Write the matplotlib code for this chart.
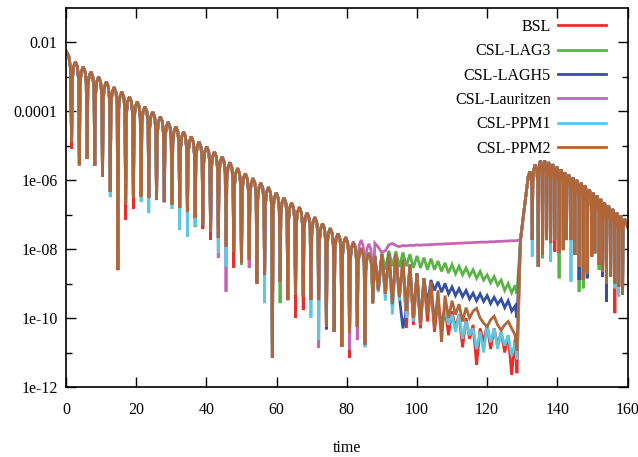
import matplotlib
matplotlib.use("Agg")
import matplotlib.pyplot as plt
import matplotlib.ticker as mticker
import numpy as np

names = ["BSL", "CSL-LAG3", "CSL-LAGH5", "CSL-Lauritzen", "CSL-PPM1", "CSL-PPM2"]
colors = ["#e8302a", "#58b544", "#3550a2", "#c466b4", "#5dc8e0", "#b1663a"]

# all values are log10 of the plotted quantity

# --- part A: t = 0 .. 87, regular oscillation (period ~2.2) ---
start_a = -2.26
dip_t_a = [1.6, 3.8, 6.0, 8.2, 10.4, 12.6, 14.8, 17.0, 19.2, 21.4,
           23.6, 25.8, 28.0, 30.2, 32.4, 34.6, 36.8, 39.0, 41.2, 43.4,
           45.6, 47.8, 50.0, 52.2, 54.4, 56.6, 58.8, 61.0, 63.2, 65.4,
           67.6, 69.8, 72.0, 74.2, 76.4, 78.6, 80.8, 83.0, 85.2, 87.4]
peak_a = [-2.57, -2.715, -2.86, -3.005, -3.15, -3.31, -3.44, -3.585, -3.73, -3.87,
          -4.02, -4.16, -4.32, -4.45, -4.60, -4.74, -4.89, -5.03, -5.18, -5.32,
          -5.49, -5.66, -5.81, -5.95, -6.08, -6.21, -6.37, -6.51, -6.66, -6.79,
          -6.95, -7.08, -7.26, -7.40, -7.55, -7.66, -7.82, -7.98, -8.12]
dip_a = [-4.89, -5.57, -5.39, -5.59, -5.91, -6.34, -8.61, -6.67, -6.52, -6.49,
         -6.52, -6.58, -6.64, -6.72, -6.81, -6.92, -7.10, -7.28, -7.50, -7.68,
         -7.93, -8.08, -8.41, -8.32, -9.00, -8.75, -11.15, -8.95, -9.48, -9.33,
         -9.38, -9.48, -9.48, -10.25, -10.40, -10.83, -10.43, -10.25, -10.78, -9.57]
dip_a_extra = {
    "BSL": {0: -5.1, 7: -7.16, 8: -6.84, 17: -7.42, 18: -7.74, 21: -8.54,
            29: -10.0, 30: -9.77, 36: -11.15},
    "CSL-LAG3": {16: -7.36, 22: -8.46, 27: -9.57},
    "CSL-LAGH5": {33: -10.33},
    "CSL-Lauritzen": {19: -8.26, 20: -9.24, 23: -8.55, 32: -10.87, 36: -10.93, 37: -10.64},
    "CSL-PPM1": {5: -6.49, 9: -6.64, 10: -6.96, 13: -6.84, 14: -7.45, 15: -7.64,
                 16: -7.33, 19: -8.12, 20: -8.51, 25: -9.57, 31: -10.0, 32: -10.64,
                 38: -10.85},
    "CSL-PPM2": {},
}
peak_a_extra = {"CSL-Lauritzen": {36: -7.78, 37: -7.74, 38: -7.85}}

# --- part B: t = 88 .. 128, irregular ---
t_b = list(range(88, 129))
vals_b = {
    "BSL": [-8.2, -9.2, -8.15, -9.3, -8.12, -9.6, -8.15, -9.4, -8.3, -10.29,
            -8.45, -10.2, -8.7, -10.3, -8.85, -10.1, -9.1, -10.4, -9.5, -10.2,
            -9.7, -10.5, -9.8, -10.3, -9.9, -10.85, -10.0, -10.6, -10.2, -11.36,
            -10.3, -10.7, -10.2, -10.9, -10.3, -10.8, -10.4, -11.0, -10.5, -11.65,
            -10.6],
    "CSL-LAG3": [-8.17, -9.19, -8.12, -8.6, -8.05, -8.5, -8.07, -8.52, -8.1, -8.5,
                 -8.15, -8.55, -8.2, -8.55, -8.25, -8.6, -8.28, -8.6, -8.35, -8.65,
                 -8.4, -8.7, -8.45, -8.72, -8.5, -8.75, -8.55, -8.78, -8.6, -8.85,
                 -8.65, -8.9, -8.75, -8.98, -8.8, -9.05, -8.9, -9.2, -9.0, -9.27,
                 -9.05],
    "CSL-LAGH5": [-8.2, -9.2, -8.15, -9.3, -8.12, -9.6, -8.15, -9.4, -10.3, -9.8,
                  -8.45, -10.0, -8.7, -10.1, -8.85, -9.6, -8.9, -9.2, -8.95, -9.25,
                  -9.0, -9.3, -9.1, -9.35, -9.15, -9.38, -9.2, -9.45, -9.28, -9.5,
                  -9.3, -9.52, -9.35, -9.58, -9.4, -9.6, -9.45, -9.7, -9.5, -9.8,
                  -9.65],
    "CSL-Lauritzen": [-7.83, -7.95, -8.1, -8.05, -7.88, -7.84, -7.9, -7.93, -7.9, -7.91,
                      -7.89, -7.9, -7.88, -7.89, -7.88, -7.88, -7.87, -7.87, -7.86, -7.86,
                      -7.85, -7.85, -7.84, -7.84, -7.83, -7.83, -7.82, -7.82, -7.81, -7.81,
                      -7.8, -7.8, -7.8, -7.79, -7.79, -7.78, -7.78, -7.77, -7.77, -7.76,
                      -7.76],
    "CSL-PPM1": [-8.2, -9.25, -8.15, -9.5, -8.12, -9.9, -8.15, -9.5, -8.3, -10.0,
                 -8.45, -10.1, -8.75, -10.2, -8.9, -9.86, -9.1, -10.0, -9.6, -10.35,
                 -9.7, -10.2, -9.9, -10.4, -9.9, -10.6, -10.1, -10.5, -10.3, -10.9,
                 -10.4, -11.0, -10.2, -10.7, -10.3, -10.9, -10.4, -10.8, -10.5, -11.1,
                 -10.7],
    "CSL-PPM2": [-8.2, -9.2, -8.15, -9.3, -8.12, -9.6, -8.15, -9.4, -8.3, -9.8,
                 -8.45, -10.0, -8.7, -10.2, -8.85, -9.9, -8.95, -10.3, -9.2, -10.7,
                 -9.35, -10.0, -9.5, -9.9, -9.6, -10.1, -9.7, -10.0, -9.8, -9.72,
                 -10.0, -10.15, -10.25, -10.05, -9.95, -10.2, -10.35, -10.2, -10.1, -10.3,
                 -10.5],
}
bottom_b = {"BSL": -11.6, "CSL-LAG3": -9.3, "CSL-LAGH5": -10.0,
            "CSL-Lauritzen": None, "CSL-PPM1": -11.2, "CSL-PPM2": -10.95}
t_bottom = 128.5

# --- jump near t = 130 ---
t_rise = [129.5, 131.7, 132.2]
v_rise = [-7.74, -5.9, -5.75]

# --- part C: t = 132 .. 160, faster oscillation (period ~1.15) ---
dip_t_c = [132.85, 134.57, 135.8, 136.95, 138.1, 139.3, 140.5, 141.7, 142.6, 143.9,
           145.0, 146.2, 147.4, 148.5, 149.8, 150.7, 151.9, 152.9, 154.0, 155.2,
           156.4, 157.5, 158.6]
peak_c = [-5.55, -5.43, -5.43, -5.48, -5.54, -5.61, -5.69, -5.78, -5.84, -5.92,
          -6.0, -6.08, -6.16, -6.27, -6.37, -6.45, -6.55, -6.65, -6.74, -6.84,
          -6.94, -7.03, -7.13]
dip_c = [-7.74, -8.51, -8.17, -7.74, -7.83, -7.74, -8.12, -8.03, -7.74, -7.74,
         -8.17, -8.51, -8.9, -8.7, -8.22, -8.12, -8.46, -8.66, -9.0, -8.8,
         -9.0, -9.09, -9.33]
dip_c_extra = {
    "BSL": {5: -8.08, 20: -9.86},
    "CSL-LAG3": {2: -8.27, 6: -8.85, 11: -9.24, 12: -9.14, 16: -8.61, 20: -9.09},
    "CSL-LAGH5": {11: -8.9, 13: -8.85, 17: -8.8, 18: -9.53},
    "CSL-Lauritzen": {},
    "CSL-PPM1": {0: -8.22, 4: -8.37, 9: -8.95, 20: -9.14, 21: -9.38},
    "CSL-PPM2": {},
}
end_t, end_v = 160.0, -7.35


def arches(ts, vs, first_is_peak):
    # rounded tops, sharp dips (shape of |cos| on a log axis)
    out_t, out_v = [ts[0]], [vs[0]]
    peak = first_is_peak
    for i in range(1, len(ts)):
        t0, v0, t1, v1 = ts[i - 1], vs[i - 1], ts[i], vs[i]
        if peak:
            p, d = v0, v1
            fr = [(0.5, 0.15), (0.8, 0.5)]
        else:
            p, d = v1, v0
            fr = [(0.2, 0.5), (0.5, 0.15)]
        for f, drop in fr:
            out_t.append(t0 + f * (t1 - t0))
            out_v.append(max(p - drop, (p + d) / 2))
        out_t.append(t1)
        out_v.append(v1)
        peak = not peak
    return out_t, out_v


def build(name):
    da = list(dip_a)
    for k, v in dip_a_extra[name].items():
        da[k] = v
    pa = list(peak_a)
    for k, v in peak_a_extra.get(name, {}).items():
        pa[k] = v
    ts, vs = [0.0], [start_a]
    for k in range(len(dip_t_a)):
        ts.append(dip_t_a[k]); vs.append(da[k])
        if k < len(pa):
            ts.append(0.5 * (dip_t_a[k] + dip_t_a[k + 1])); vs.append(pa[k])
    t, v = arches(ts, vs, True)
    t += t_b
    v += vals_b[name]
    if bottom_b[name] is not None:
        t.append(t_bottom); v.append(bottom_b[name])
    t += t_rise[:2]
    v += v_rise[:2]
    dc = list(dip_c)
    for k, val in dip_c_extra[name].items():
        dc[k] = val
    ts, vs = [t_rise[2]], [v_rise[2]]
    for k in range(len(dip_t_c)):
        ts.append(dip_t_c[k]); vs.append(dc[k])
        nxt = dip_t_c[k + 1] if k + 1 < len(dip_t_c) else dip_t_c[k] + 1.2
        ts.append(0.5 * (dip_t_c[k] + nxt)); vs.append(peak_c[k])
    tc, vc = arches(ts, vs, True)
    t += tc + [end_t]
    v += vc + [end_v]
    return np.array(t), 10.0 ** np.array(v)


plt.rcParams["font.family"] = ["Liberation Serif", "DejaVu Serif"]
fig = plt.figure(figsize=(6.38, 4.57), dpi=100)
ax = fig.add_axes([66 / 638, 1 - 387 / 457, 561.5 / 638, 379.5 / 457])

for name, c in zip(names, colors):
    t, y = build(name)
    ax.plot(t, y, color=c, lw=2.0, label=name, solid_joinstyle="miter")

ax.set_yscale("log")
ax.set_xlim(0, 160)
ax.set_ylim(1e-12, 1e-1)
ax.yaxis.set_major_locator(mticker.FixedLocator([1e-12, 1e-10, 1e-8, 1e-6, 1e-4, 1e-2]))
ax.yaxis.set_major_formatter(mticker.FixedFormatter(["1e-12", "1e-10", "1e-08", "1e-06", "0.0001", "0.01"]))
ax.yaxis.set_minor_locator(mticker.FixedLocator([1e-11, 1e-9, 1e-7, 1e-5, 1e-3]))
ax.yaxis.set_minor_formatter(mticker.NullFormatter())
ax.set_xticks(range(0, 161, 20))
ax.tick_params(which="both", direction="in", top=True, right=True, labelsize=11.5, width=1)
ax.tick_params(which="major", length=7)
ax.tick_params(which="minor", length=4)
ax.tick_params(axis="x", pad=11)
ax.tick_params(axis="y", pad=6)
for s in ax.spines.values():
    s.set_linewidth(1.2)
ax.set_xlabel("time", fontsize=11.5, labelpad=16)

leg = ax.legend(loc="upper right", bbox_to_anchor=(606 / 638, 1 - 19 / 457),
                bbox_transform=fig.transFigure, frameon=False, markerfirst=False,
                fontsize=11.5, handlelength=3.0, handletextpad=0.45,
                labelspacing=0.52, borderpad=0, borderaxespad=0)

fig.savefig("out.png", dpi=100)
